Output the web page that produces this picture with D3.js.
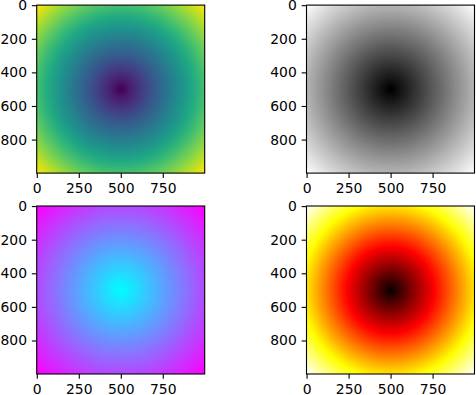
<!DOCTYPE html>
<html>
<head>
<meta charset="utf-8">
<script src="https://cdn.jsdelivr.net/npm/d3@7"></script>
<style>
html,body{margin:0;padding:0;background:#fff;}
svg{display:block;}
text{font-family:"DejaVu Sans",sans-serif;}
</style>
</head>
<body>
<svg id="chart" width="476" height="395"></svg>
<script>
// ---- data ----
const gridSize = 1000;            // image is 1000 x 1000 samples
const center = [500, 500];        // distance measured from this point
const colormaps = ["viridis", "gray", "cool", "hot"];
const xTicks = [0, 250, 500, 750];
const yTicks = [0, 200, 400, 600, 800];

// ---- layout ----
const W = 476, H = 395;
const size = 168;
const colLeft = [36.7, 306.5];
const rowTop = [5.1, 206.0];

// distance field
const field = new Float32Array(gridSize * gridSize);
let vmax = 0;
for (let i = 0; i < gridSize; i++) {
  for (let j = 0; j < gridSize; j++) {
    const v = Math.hypot(j - center[0], i - center[1]);
    field[i * gridSize + j] = v;
    if (v > vmax) vmax = v;
  }
}
const vmin = 0;

// matplotlib-like colormaps
function hot(t) {
  const r = Math.min(1, 0.0416 + (1 - 0.0416) * t / 0.365079);
  const g = Math.max(0, Math.min(1, (t - 0.365079) / (0.746032 - 0.365079)));
  const b = Math.max(0, Math.min(1, (t - 0.746032) / (1 - 0.746032)));
  return d3.rgb(r * 255, g * 255, b * 255);
}
const interps = {
  viridis: t => d3.rgb(d3.interpolateViridis(t)),
  gray: t => d3.rgb(t * 255, t * 255, t * 255),
  cool: t => d3.rgb(t * 255, (1 - t) * 255, 255),
  hot: hot
};

const svg = d3.select("#chart");
svg.append("rect").attr("width", W).attr("height", H).attr("fill", "#fff");

colormaps.forEach((name, k) => {
  const r = Math.floor(k / 2), c = k % 2;
  const left = colLeft[c], top = rowTop[r];
  const x = d3.scaleLinear().domain([-0.5, gridSize - 0.5]).range([0, size]);
  const y = d3.scaleLinear().domain([-0.5, gridSize - 0.5]).range([0, size]);
  const color = d3.scaleSequential(interps[name]).domain([vmin, vmax]);

  // LUT of 256 entries like matplotlib
  const lut = [];
  for (let q = 0; q < 256; q++) lut.push(interps[name](q / 255));

  const canvas = document.createElement("canvas");
  canvas.width = gridSize; canvas.height = gridSize;
  const ctx = canvas.getContext("2d");
  const img = ctx.createImageData(gridSize, gridSize);
  for (let p = 0; p < field.length; p++) {
    const t = (field[p] - vmin) / (vmax - vmin);
    const col = lut[Math.max(0, Math.min(255, Math.floor(t * 256)))];
    img.data[p * 4] = col.r;
    img.data[p * 4 + 1] = col.g;
    img.data[p * 4 + 2] = col.b;
    img.data[p * 4 + 3] = 255;
  }
  ctx.putImageData(img, 0, 0);

  const g = svg.append("g").attr("transform", `translate(${left},${top})`);
  g.append("image")
    .attr("href", canvas.toDataURL())
    .attr("x", x(-0.5)).attr("y", y(-0.5))
    .attr("width", x(gridSize - 0.5) - x(-0.5))
    .attr("height", y(gridSize - 0.5) - y(-0.5))
    .attr("preserveAspectRatio", "none");

  const xAxis = d3.axisBottom(x).tickValues(xTicks).tickFormat(d3.format("d"))
    .tickSizeInner(4.86).tickSizeOuter(0).tickPadding(4.86);
  const yAxis = d3.axisLeft(y).tickValues(yTicks).tickFormat(d3.format("d"))
    .tickSizeInner(4.86).tickSizeOuter(0).tickPadding(4.86);

  const gx = g.append("g").attr("transform", `translate(0,${size})`).call(xAxis);
  const gy = g.append("g").call(yAxis);
  [gx, gy].forEach(a => {
    a.select(".domain").remove();
    a.selectAll(".tick line").attr("stroke", "#000").attr("stroke-width", 1.1);
    a.selectAll(".tick text").attr("fill", "#000")
      .style("font-size", "13.9px").style("font-family", "'DejaVu Sans', sans-serif");
  });

  g.append("rect").attr("x", 0).attr("y", 0).attr("width", size).attr("height", size)
    .attr("fill", "none").attr("stroke", "#000").attr("stroke-width", 1.1);
});
</script>
</body>
</html>
